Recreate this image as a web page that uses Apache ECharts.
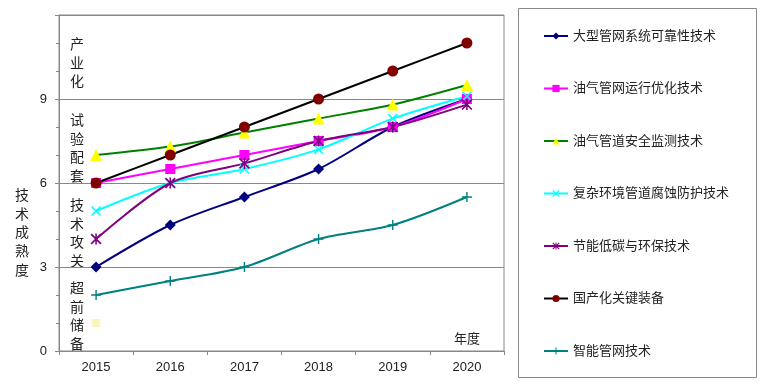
<!DOCTYPE html>
<html><head><meta charset="utf-8">
<script src="https://cdn.jsdelivr.net/npm/echarts@6/dist/echarts.min.js"></script>
<style>html,body{margin:0;padding:0;background:#fff}#c{width:775px;height:388px}</style>
</head><body><div id="c"></div>
<script>
var years = ['2015','2016','2017','2018','2019','2020'];
var seriesNames = ['大型管网系统可靠性技术','油气管网运行优化技术','油气管道安全监测技术','复杂环境管道腐蚀防护技术','节能低碳与环保技术','国产化关键装备','智能管网技术'];
var reliability = [3, 4.5, 5.5, 6.5, 8, 9];
var optimization = [6, 6.5, 7, 7.5, 8, 9];
var monitoring = [7, 7.3, 7.8, 8.3, 8.8, 9.5];
var corrosion = [5, 6, 6.5, 7.2, 8.3, 9.1];
var energySaving = [4, 6, 6.7, 7.5, 8, 8.8];
var equipment = [6, 7, 8, 9, 10, 11];
var smartGrid = [2, 2.5, 3, 4, 4.5, 5.5];
var strayPoint = [1, null, null, null, null, null];
var yTicks = [0, 3, 6, 9];
var stageLabels = ['产业化', '试验配套', '技术攻关', '超前储备'];

var FONT = '"Liberation Sans","Noto Sans CJK SC",sans-serif';
var X_PATH = 'path://M0,1.1 L1.1,0 L10,8.9 L8.9,10 Z M8.9,0 L10,1.1 L1.1,10 L0,8.9 Z';
var STAR_PATH = 'path://M0,1.1 L1.1,0 L10,8.9 L8.9,10 Z M8.9,0 L10,1.1 L1.1,10 L0,8.9 Z M4.3,0 L5.7,0 L5.7,10 L4.3,10 Z';
var PLUS_PATH = 'path://M4.3,0 L5.7,0 L5.7,4.3 L10,4.3 L10,5.7 L5.7,5.7 L5.7,10 L4.3,10 L4.3,5.7 L0,5.7 L0,4.3 L4.3,4.3 Z';

var styles = [
  {data: reliability, line: '#000080', item: '#000080', symbol: 'diamond', size: 11},
  {data: optimization, line: '#FF00FF', item: '#FF00FF', symbol: 'rect', size: 10},
  {data: monitoring, line: '#008000', item: '#FFFF00', symbol: 'triangle', size: 12},
  {data: corrosion, line: '#00FFFF', item: '#00FFFF', symbol: X_PATH, size: 10},
  {data: energySaving, line: '#800080', item: '#800080', symbol: STAR_PATH, size: 11},
  {data: equipment, line: '#000000', item: '#800000', symbol: 'circle', size: 11},
  {data: smartGrid, line: '#008080', item: '#008080', symbol: PLUS_PATH, size: 10}
];

var series = styles.map(function (s, i) {
  return {
    name: seriesNames[i], type: 'line', data: s.data, smooth: 0.3,
    symbol: s.symbol, symbolSize: s.size, showSymbol: true,
    lineStyle: {color: s.line, width: 2},
    itemStyle: {color: s.item, borderWidth: 0},
    emphasis: {disabled: true}, z: 3
  };
});
series.push({
  name: 'stray', type: 'scatter', data: strayPoint, symbol: 'rect', symbolSize: 8,
  itemStyle: {color: '#f4f4a8'}, silent: true, z: 2
});

var graphics = [
  {type: 'rect', shape: {x: 518.5, y: 8.5, width: 238, height: 369}, style: {fill: 'none', stroke: '#888', lineWidth: 1}},
  {type: 'text', x: 22, y: 187, style: {text: '技\n术\n成\n熟\n度', font: '14px ' + FONT, fill: '#222', textAlign: 'center', lineHeight: 18.6}},
  {type: 'text', x: 467, y: 333, style: {text: '年度', font: '13px ' + FONT, fill: '#222', textAlign: 'center'}}
];
var stageTops = [36, 112, 197, 280];
stageLabels.forEach(function (t, i) {
  graphics.push({type: 'text', x: 77, y: stageTops[i], style: {text: t.split('').join('\n'), font: '14px ' + FONT, fill: '#222', textAlign: 'center', lineHeight: 18.5}});
});

var chart = echarts.init(document.getElementById('c'), null, {renderer: 'canvas'});
chart.setOption({
  backgroundColor: '#fff',
  animation: false,
  textStyle: {fontFamily: FONT},
  grid: {left: 59, top: 15, right: 271, bottom: 37, show: true, borderColor: '#888', borderWidth: 1, containLabel: false},
  legend: {
    data: seriesNames, orient: 'vertical', left: 543, top: 29, itemGap: 38.5, padding: 0,
    itemWidth: 24, itemHeight: 9, selectedMode: false,
    textStyle: {fontSize: 13, color: '#222', fontFamily: FONT, lineHeight: 14}
  },
  xAxis: {
    type: 'category', data: years, boundaryGap: true,
    axisLine: {lineStyle: {color: '#888'}},
    axisTick: {show: true, length: 4, lineStyle: {color: '#888'}, inside: false},
    axisLabel: {fontSize: 13, color: '#222', margin: 10}
  },
  yAxis: {
    type: 'value', min: 0, max: 12, interval: 3,
    axisLine: {show: true, lineStyle: {color: '#888'}},
    axisTick: {show: true, length: 4, lineStyle: {color: '#888'}},
    minorTick: {show: true, splitNumber: 3, length: 3, lineStyle: {color: '#888'}},
    splitLine: {show: true, lineStyle: {color: '#888', width: 1}},
    axisLabel: {fontSize: 13, color: '#222', margin: 12, formatter: function (v) { return yTicks.indexOf(v) >= 0 ? String(v) : ''; }}
  },
  graphic: graphics,
  series: series
});
</script></body></html>
